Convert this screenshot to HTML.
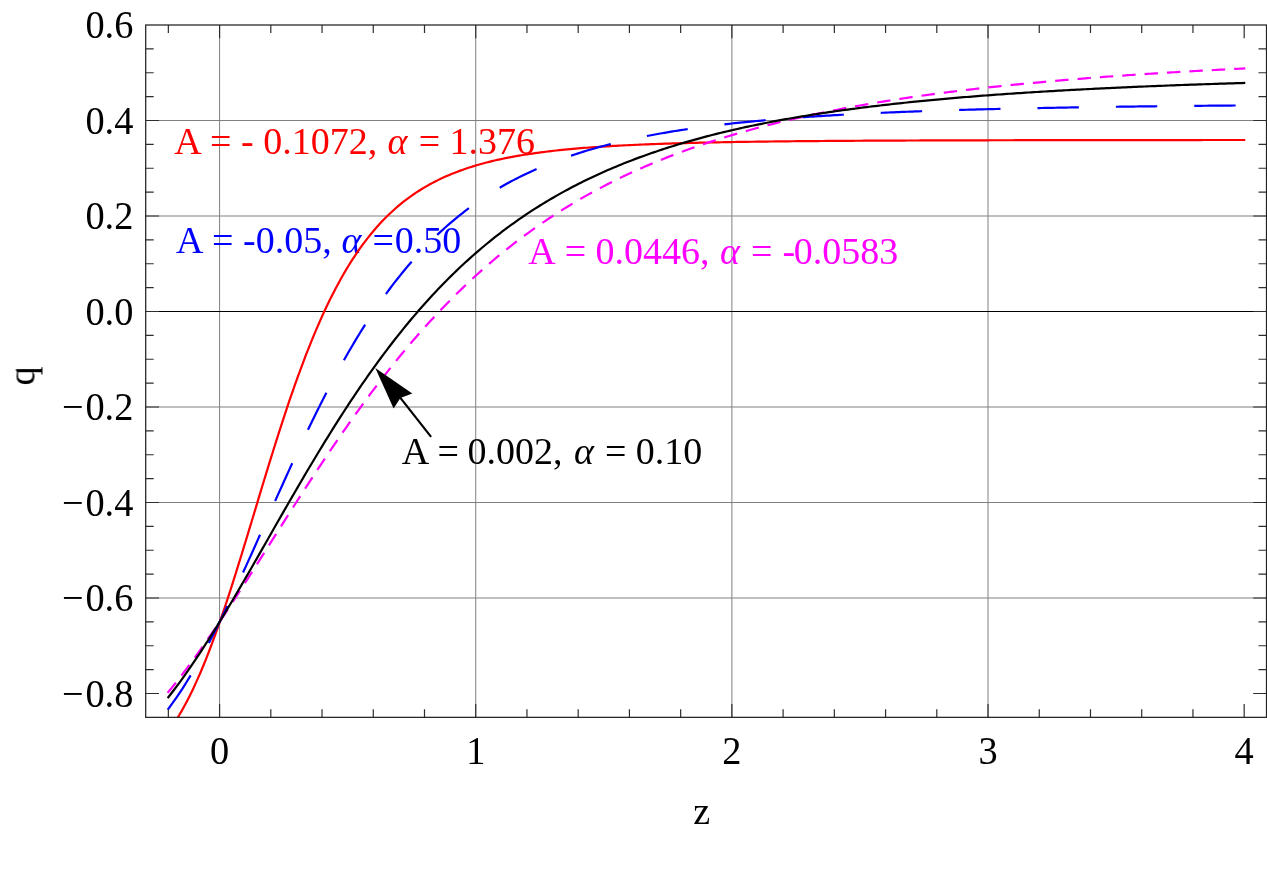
<!DOCTYPE html>
<html><head><meta charset="utf-8"><title>q(z)</title>
<style>html,body{margin:0;padding:0;background:#fff;overflow:hidden}svg{display:block;will-change:transform}text{font-family:"Liberation Serif",serif;font-size:38px}.t{font-size:38.4px}</style></head><body>
<svg width="1267" height="892" viewBox="0 0 1267 892">
<rect width="1267" height="892" fill="#fff"/>
<defs><clipPath id="c"><rect x="145.70" y="25.00" width="1120.80" height="692.35"/></clipPath><mask id="m"><rect width="1267" height="892" fill="#fff"/></mask></defs>
<path d="M219.58 25.00 V717.35 M475.73 25.00 V717.35 M731.88 25.00 V717.35 M988.03 25.00 V717.35 M145.70 120.50 H1266.50 M145.70 216.00 H1266.50 M145.70 407.00 H1266.50 M145.70 502.50 H1266.50 M145.70 598.00 H1266.50" stroke="#808080" stroke-width="1" fill="none"/>
<path d="M145.70 311.50 H1266.50" stroke="#000" stroke-width="1" fill="none"/>
<g mask="url(#m)">
<g fill="#ff0000"><desc>A = - 0.1072, α = 1.376</desc>
<text x="174.30" y="153.80">A</text>
<text x="210.10" y="153.80">=</text>
<text x="241.00" y="153.80" xml:space="preserve">- 0.1072,</text>
<text x="387.40" y="153.80" font-style="italic">α</text>
<text x="418.70" y="153.80">=</text>
<text x="535.00" y="153.80" text-anchor="end">1.376</text>
</g>
<g fill="#0000ff"><desc>A = -0.05, α = 0.50</desc>
<text x="175.90" y="252.65">A</text>
<text x="212.00" y="252.65">=</text>
<text x="243.00" y="252.65" xml:space="preserve">-0.05,</text>
<text x="341.50" y="252.65" font-style="italic">α</text>
<text x="372.60" y="252.65">=</text>
<text x="461.20" y="252.65" text-anchor="end">0.50</text>
</g>
<g fill="#ff00ff"><desc>A = 0.0446, α = -0.0583</desc>
<text x="528.30" y="263.80">A</text>
<text x="564.70" y="263.80">=</text>
<text x="595.55" y="263.80" xml:space="preserve">0.0446,</text>
<text x="719.90" y="263.80" font-style="italic">α</text>
<text x="751.10" y="263.80">=</text>
<text x="782.40" y="263.80">-</text>
<text x="898.20" y="263.80" text-anchor="end">0.0583</text>
</g>
<g fill="#000000"><desc>A = 0.002, α = 0.10</desc>
<text x="401.85" y="463.60">A</text>
<text x="437.50" y="463.60">=</text>
<text x="467.55" y="463.60" xml:space="preserve">0.002,</text>
<text x="573.90" y="463.60" font-style="italic">α</text>
<text x="604.90" y="463.60">=</text>
<text x="702.20" y="463.60" text-anchor="end">0.10</text>
</g>
</g>
<g clip-path="url(#c)" fill="none" stroke-width="2.2" stroke-linecap="square">
<path d="M168.35 731.51 L171.05 727.76 L173.74 723.80 L176.44 719.63 L179.14 715.24 L181.83 710.63 L184.53 705.79 L187.22 700.72 L189.92 695.43 L192.62 689.91 L195.31 684.15 L198.01 678.17 L200.71 671.97 L203.40 665.54 L206.10 658.89 L208.79 652.02 L211.49 644.95 L214.19 637.67 L216.88 630.20 L219.58 622.55 L222.28 614.72 L224.97 606.73 L227.67 598.58 L230.37 590.29 L233.06 581.87 L235.76 573.34 L238.45 564.70 L241.15 555.98 L243.85 547.18 L246.54 538.33 L249.24 529.43 L251.94 520.50 L254.63 511.56 L257.33 502.61 L260.02 493.68 L262.72 484.78 L265.42 475.92 L268.11 467.11 L270.81 458.37 L273.51 449.71 L276.20 441.14 L278.90 432.67 L281.60 424.31 L284.29 416.07 L286.99 407.95 L289.68 399.97 L292.38 392.13 L295.08 384.44 L297.77 376.90 L300.47 369.51 L303.17 362.29 L305.86 355.23 L308.56 348.34 L311.25 341.61 L313.95 335.06 L316.65 328.67 L319.34 322.46 L322.04 316.41 L324.74 310.54 L327.43 304.83 L330.13 299.29 L332.83 293.92 L335.52 288.70 L338.22 283.65 L340.91 278.76 L343.61 274.02 L346.31 269.43 L349.00 265.00 L351.70 260.70 L354.40 256.56 L357.09 252.54 L359.79 248.67 L362.48 244.93 L365.18 241.31 L367.88 237.82 L370.57 234.45 L373.27 231.20 L375.97 228.07 L378.66 225.04 L381.36 222.12 L384.06 219.31 L386.75 216.59 L389.45 213.97 L392.14 211.45 L394.84 209.02 L397.54 206.67 L400.23 204.41 L402.93 202.23 L405.63 200.13 L408.32 198.10 L411.02 196.15 L413.71 194.27 L416.41 192.46 L419.11 190.71 L421.80 189.02 L424.50 187.40 L427.20 185.83 L429.89 184.33 L432.59 182.87 L435.29 181.47 L437.98 180.12 L440.68 178.81 L443.37 177.56 L446.07 176.34 L448.77 175.17 L451.46 174.05 L454.16 172.96 L456.86 171.91 L459.55 170.90 L462.25 169.92 L464.94 168.98 L467.64 168.07 L470.34 167.20 L473.03 166.35 L475.73 165.53 L478.43 164.74 L481.12 163.98 L483.82 163.25 L486.52 162.54 L489.21 161.85 L491.91 161.19 L494.60 160.55 L497.30 159.93 L500.00 159.33 L502.69 158.76 L505.39 158.20 L508.09 157.66 L510.78 157.14 L513.48 156.64 L516.17 156.15 L518.87 155.68 L521.57 155.22 L524.26 154.78 L526.96 154.36 L529.66 153.95 L532.35 153.55 L535.05 153.16 L537.75 152.79 L540.44 152.43 L543.14 152.08 L545.83 151.74 L548.53 151.41 L551.23 151.09 L553.92 150.78 L556.62 150.49 L559.32 150.20 L562.01 149.92 L564.71 149.65 L567.40 149.39 L570.10 149.13 L572.80 148.88 L575.49 148.65 L578.19 148.41 L580.89 148.19 L583.58 147.97 L586.28 147.76 L588.98 147.56 L591.67 147.36 L594.37 147.16 L597.06 146.98 L599.76 146.79 L602.46 146.62 L605.15 146.45 L607.85 146.28 L610.55 146.12 L613.24 145.96 L615.94 145.81 L618.63 145.66 L621.33 145.52 L624.03 145.38 L626.72 145.25 L629.42 145.12 L632.12 144.99 L634.81 144.86 L637.51 144.74 L640.21 144.63 L642.90 144.51 L645.60 144.40 L648.29 144.29 L650.99 144.19 L653.69 144.09 L656.38 143.99 L659.08 143.89 L661.78 143.80 L664.47 143.71 L667.17 143.62 L669.86 143.53 L672.56 143.45 L675.26 143.37 L677.95 143.29 L680.65 143.21 L683.35 143.13 L686.04 143.06 L688.74 142.99 L691.44 142.92 L694.13 142.85 L696.83 142.78 L699.52 142.72 L702.22 142.66 L704.92 142.60 L707.61 142.54 L710.31 142.48 L713.01 142.42 L715.70 142.37 L718.40 142.31 L721.09 142.26 L723.79 142.21 L726.49 142.16 L729.18 142.11 L731.88 142.07 L734.58 142.02 L737.27 141.97 L739.97 141.93 L742.67 141.89 L745.36 141.85 L748.06 141.81 L750.75 141.77 L753.45 141.73 L756.15 141.69 L758.84 141.65 L761.54 141.62 L764.24 141.58 L766.93 141.55 L769.63 141.51 L772.32 141.48 L775.02 141.45 L777.72 141.42 L780.41 141.39 L783.11 141.36 L785.81 141.33 L788.50 141.30 L791.20 141.27 L793.90 141.24 L796.59 141.22 L799.29 141.19 L801.98 141.17 L804.68 141.14 L807.38 141.12 L810.07 141.09 L812.77 141.07 L815.47 141.05 L818.16 141.03 L820.86 141.01 L823.55 140.98 L826.25 140.96 L828.95 140.94 L831.64 140.92 L834.34 140.91 L837.04 140.89 L839.73 140.87 L842.43 140.85 L845.13 140.83 L847.82 140.82 L850.52 140.80 L853.21 140.78 L855.91 140.77 L858.61 140.75 L861.30 140.73 L864.00 140.72 L866.70 140.70 L869.39 140.69 L872.09 140.68 L874.78 140.66 L877.48 140.65 L880.18 140.64 L882.87 140.62 L885.57 140.61 L888.27 140.60 L890.96 140.58 L893.66 140.57 L896.36 140.56 L899.05 140.55 L901.75 140.54 L904.44 140.53 L907.14 140.52 L909.84 140.51 L912.53 140.50 L915.23 140.49 L917.93 140.48 L920.62 140.47 L923.32 140.46 L926.01 140.45 L928.71 140.44 L931.41 140.43 L934.10 140.42 L936.80 140.41 L939.50 140.40 L942.19 140.39 L944.89 140.39 L947.59 140.38 L950.28 140.37 L952.98 140.36 L955.67 140.36 L958.37 140.35 L961.07 140.34 L963.76 140.33 L966.46 140.33 L969.16 140.32 L971.85 140.31 L974.55 140.31 L977.24 140.30 L979.94 140.29 L982.64 140.29 L985.33 140.28 L988.03 140.28 L990.73 140.27 L993.42 140.26 L996.12 140.26 L998.82 140.25 L1001.51 140.25 L1004.21 140.24 L1006.90 140.24 L1009.60 140.23 L1012.30 140.23 L1014.99 140.22 L1017.69 140.22 L1020.39 140.21 L1023.08 140.21 L1025.78 140.20 L1028.47 140.20 L1031.17 140.19 L1033.87 140.19 L1036.56 140.19 L1039.26 140.18 L1041.96 140.18 L1044.65 140.17 L1047.35 140.17 L1050.05 140.17 L1052.74 140.16 L1055.44 140.16 L1058.13 140.15 L1060.83 140.15 L1063.53 140.15 L1066.22 140.14 L1068.92 140.14 L1071.62 140.14 L1074.31 140.13 L1077.01 140.13 L1079.70 140.13 L1082.40 140.12 L1085.10 140.12 L1087.79 140.12 L1090.49 140.11 L1093.19 140.11 L1095.88 140.11 L1098.58 140.11 L1101.28 140.10 L1103.97 140.10 L1106.67 140.10 L1109.36 140.09 L1112.06 140.09 L1114.76 140.09 L1117.45 140.09 L1120.15 140.08 L1122.85 140.08 L1125.54 140.08 L1128.24 140.08 L1130.93 140.07 L1133.63 140.07 L1136.33 140.07 L1139.02 140.07 L1141.72 140.07 L1144.42 140.06 L1147.11 140.06 L1149.81 140.06 L1152.51 140.06 L1155.20 140.06 L1157.90 140.05 L1160.59 140.05 L1163.29 140.05 L1165.99 140.05 L1168.68 140.05 L1171.38 140.04 L1174.08 140.04 L1176.77 140.04 L1179.47 140.04 L1182.16 140.04 L1184.86 140.04 L1187.56 140.03 L1190.25 140.03 L1192.95 140.03 L1195.65 140.03 L1198.34 140.03 L1201.04 140.03 L1203.74 140.02 L1206.43 140.02 L1209.13 140.02 L1211.82 140.02 L1214.52 140.02 L1217.22 140.02 L1219.91 140.02 L1222.61 140.01 L1225.31 140.01 L1228.00 140.01 L1230.70 140.01 L1233.39 140.01 L1236.09 140.01 L1238.79 140.01 L1241.48 140.01 L1244.18 140.00" stroke="#ff0000" stroke-linecap="square"/>
<path d="M168.35 708.85 L171.05 705.20 L173.74 701.45 L176.44 697.58 L179.14 693.60 L181.83 689.52 L184.53 685.33 L187.22 681.04 L189.92 676.64 L192.62 672.13 L195.31 667.53 L198.01 662.83 L200.71 658.04 L203.40 653.15 L206.10 648.17 L208.79 643.10 L211.49 637.95 L214.19 632.71 L216.88 627.40 L219.58 622.01 L222.28 616.55 L224.97 611.02 L227.67 605.43 L230.37 599.78 L233.06 594.08 L235.76 588.32 L238.45 582.52 L241.15 576.67 L243.85 570.78 L246.54 564.86 L249.24 558.91 L251.94 552.93 L254.63 546.93 L257.33 540.92 L260.02 534.89 L262.72 528.85 L265.42 522.81 L268.11 516.77 L270.81 510.73 L273.51 504.69 L276.20 498.67 L278.90 492.67 L281.60 486.68 L284.29 480.72 L286.99 474.78 L289.68 468.87 L292.38 462.99 L295.08 457.15 L297.77 451.35 L300.47 445.59 L303.17 439.87 L305.86 434.20 L308.56 428.58 L311.25 423.00 L313.95 417.49 L316.65 412.02 L319.34 406.62 L322.04 401.27 L324.74 395.98 L327.43 390.76 L330.13 385.59 L332.83 380.49 L335.52 375.46 L338.22 370.50 L340.91 365.60 L343.61 360.76 L346.31 356.00 L349.00 351.31 L351.70 346.68 L354.40 342.13 L357.09 337.64 L359.79 333.23 L362.48 328.89 L365.18 324.61 L367.88 320.41 L370.57 316.27 L373.27 312.21 L375.97 308.22 L378.66 304.29 L381.36 300.43 L384.06 296.65 L386.75 292.93 L389.45 289.27 L392.14 285.69 L394.84 282.16 L397.54 278.71 L400.23 275.32 L402.93 271.99 L405.63 268.73 L408.32 265.53 L411.02 262.39 L413.71 259.31 L416.41 256.29 L419.11 253.33 L421.80 250.42 L424.50 247.58 L427.20 244.79 L429.89 242.06 L432.59 239.38 L435.29 236.76 L437.98 234.19 L440.68 231.67 L443.37 229.20 L446.07 226.78 L448.77 224.41 L451.46 222.09 L454.16 219.82 L456.86 217.59 L459.55 215.41 L462.25 213.28 L464.94 211.19 L467.64 209.14 L470.34 207.13 L473.03 205.17 L475.73 203.24 L478.43 201.36 L481.12 199.52 L483.82 197.71 L486.52 195.94 L489.21 194.21 L491.91 192.51 L494.60 190.85 L497.30 189.22 L500.00 187.63 L502.69 186.07 L505.39 184.55 L508.09 183.05 L510.78 181.59 L513.48 180.15 L516.17 178.75 L518.87 177.37 L521.57 176.03 L524.26 174.71 L526.96 173.42 L529.66 172.15 L532.35 170.91 L535.05 169.70 L537.75 168.51 L540.44 167.34 L543.14 166.20 L545.83 165.09 L548.53 163.99 L551.23 162.92 L553.92 161.87 L556.62 160.84 L559.32 159.83 L562.01 158.85 L564.71 157.88 L567.40 156.93 L570.10 156.00 L572.80 155.09 L575.49 154.20 L578.19 153.33 L580.89 152.47 L583.58 151.63 L586.28 150.81 L588.98 150.00 L591.67 149.21 L594.37 148.44 L597.06 147.68 L599.76 146.93 L602.46 146.20 L605.15 145.49 L607.85 144.79 L610.55 144.10 L613.24 143.42 L615.94 142.76 L618.63 142.11 L621.33 141.48 L624.03 140.85 L626.72 140.24 L629.42 139.64 L632.12 139.05 L634.81 138.48 L637.51 137.91 L640.21 137.35 L642.90 136.81 L645.60 136.28 L648.29 135.75 L650.99 135.24 L653.69 134.73 L656.38 134.24 L659.08 133.75 L661.78 133.27 L664.47 132.80 L667.17 132.34 L669.86 131.89 L672.56 131.45 L675.26 131.01 L677.95 130.59 L680.65 130.17 L683.35 129.76 L686.04 129.35 L688.74 128.96 L691.44 128.57 L694.13 128.19 L696.83 127.81 L699.52 127.44 L702.22 127.08 L704.92 126.72 L707.61 126.37 L710.31 126.03 L713.01 125.69 L715.70 125.36 L718.40 125.04 L721.09 124.72 L723.79 124.40 L726.49 124.10 L729.18 123.79 L731.88 123.49 L734.58 123.20 L737.27 122.91 L739.97 122.63 L742.67 122.35 L745.36 122.08 L748.06 121.81 L750.75 121.55 L753.45 121.29 L756.15 121.03 L758.84 120.78 L761.54 120.54 L764.24 120.29 L766.93 120.06 L769.63 119.82 L772.32 119.59 L775.02 119.36 L777.72 119.14 L780.41 118.92 L783.11 118.71 L785.81 118.49 L788.50 118.29 L791.20 118.08 L793.90 117.88 L796.59 117.68 L799.29 117.49 L801.98 117.29 L804.68 117.10 L807.38 116.92 L810.07 116.74 L812.77 116.56 L815.47 116.38 L818.16 116.20 L820.86 116.03 L823.55 115.86 L826.25 115.70 L828.95 115.53 L831.64 115.37 L834.34 115.21 L837.04 115.06 L839.73 114.90 L842.43 114.75 L845.13 114.60 L847.82 114.46 L850.52 114.31 L853.21 114.17 L855.91 114.03 L858.61 113.89 L861.30 113.76 L864.00 113.62 L866.70 113.49 L869.39 113.36 L872.09 113.24 L874.78 113.11 L877.48 112.99 L880.18 112.86 L882.87 112.74 L885.57 112.63 L888.27 112.51 L890.96 112.39 L893.66 112.28 L896.36 112.17 L899.05 112.06 L901.75 111.95 L904.44 111.84 L907.14 111.74 L909.84 111.64 L912.53 111.53 L915.23 111.43 L917.93 111.33 L920.62 111.24 L923.32 111.14 L926.01 111.04 L928.71 110.95 L931.41 110.86 L934.10 110.77 L936.80 110.68 L939.50 110.59 L942.19 110.50 L944.89 110.42 L947.59 110.33 L950.28 110.25 L952.98 110.17 L955.67 110.08 L958.37 110.00 L961.07 109.92 L963.76 109.85 L966.46 109.77 L969.16 109.69 L971.85 109.62 L974.55 109.55 L977.24 109.47 L979.94 109.40 L982.64 109.33 L985.33 109.26 L988.03 109.19 L990.73 109.12 L993.42 109.06 L996.12 108.99 L998.82 108.93 L1001.51 108.86 L1004.21 108.80 L1006.90 108.73 L1009.60 108.67 L1012.30 108.61 L1014.99 108.55 L1017.69 108.49 L1020.39 108.43 L1023.08 108.38 L1025.78 108.32 L1028.47 108.26 L1031.17 108.21 L1033.87 108.15 L1036.56 108.10 L1039.26 108.04 L1041.96 107.99 L1044.65 107.94 L1047.35 107.89 L1050.05 107.84 L1052.74 107.79 L1055.44 107.74 L1058.13 107.69 L1060.83 107.64 L1063.53 107.59 L1066.22 107.55 L1068.92 107.50 L1071.62 107.45 L1074.31 107.41 L1077.01 107.36 L1079.70 107.32 L1082.40 107.27 L1085.10 107.23 L1087.79 107.19 L1090.49 107.15 L1093.19 107.11 L1095.88 107.06 L1098.58 107.02 L1101.28 106.98 L1103.97 106.94 L1106.67 106.91 L1109.36 106.87 L1112.06 106.83 L1114.76 106.79 L1117.45 106.75 L1120.15 106.72 L1122.85 106.68 L1125.54 106.65 L1128.24 106.61 L1130.93 106.57 L1133.63 106.54 L1136.33 106.51 L1139.02 106.47 L1141.72 106.44 L1144.42 106.41 L1147.11 106.37 L1149.81 106.34 L1152.51 106.31 L1155.20 106.28 L1157.90 106.25 L1160.59 106.22 L1163.29 106.19 L1165.99 106.16 L1168.68 106.13 L1171.38 106.10 L1174.08 106.07 L1176.77 106.04 L1179.47 106.01 L1182.16 105.98 L1184.86 105.95 L1187.56 105.93 L1190.25 105.90 L1192.95 105.87 L1195.65 105.85 L1198.34 105.82 L1201.04 105.79 L1203.74 105.77 L1206.43 105.74 L1209.13 105.72 L1211.82 105.69 L1214.52 105.67 L1217.22 105.65 L1219.91 105.62 L1222.61 105.60 L1225.31 105.57 L1228.00 105.55 L1230.70 105.53 L1233.39 105.51 L1236.09 105.48 L1238.79 105.46 L1241.48 105.44 L1244.18 105.42" stroke="#0000ff" stroke-dasharray="39.2 39.2"/>
<path d="M168.35 692.00 L171.05 688.69 L173.74 685.34 L176.44 681.94 L179.14 678.49 L181.83 674.99 L184.53 671.45 L187.22 667.86 L189.92 664.23 L192.62 660.56 L195.31 656.85 L198.01 653.10 L200.71 649.32 L203.40 645.49 L206.10 641.64 L208.79 637.75 L211.49 633.82 L214.19 629.87 L216.88 625.89 L219.58 621.88 L222.28 617.84 L224.97 613.78 L227.67 609.70 L230.37 605.60 L233.06 601.47 L235.76 597.33 L238.45 593.17 L241.15 588.99 L243.85 584.80 L246.54 580.59 L249.24 576.38 L251.94 572.15 L254.63 567.91 L257.33 563.67 L260.02 559.42 L262.72 555.17 L265.42 550.91 L268.11 546.65 L270.81 542.40 L273.51 538.14 L276.20 533.88 L278.90 529.62 L281.60 525.37 L284.29 521.13 L286.99 516.89 L289.68 512.66 L292.38 508.44 L295.08 504.23 L297.77 500.03 L300.47 495.84 L303.17 491.66 L305.86 487.50 L308.56 483.35 L311.25 479.22 L313.95 475.10 L316.65 471.00 L319.34 466.92 L322.04 462.86 L324.74 458.82 L327.43 454.80 L330.13 450.80 L332.83 446.82 L335.52 442.86 L338.22 438.93 L340.91 435.02 L343.61 431.14 L346.31 427.27 L349.00 423.44 L351.70 419.63 L354.40 415.84 L357.09 412.09 L359.79 408.36 L362.48 404.65 L365.18 400.98 L367.88 397.33 L370.57 393.71 L373.27 390.12 L375.97 386.55 L378.66 383.02 L381.36 379.52 L384.06 376.04 L386.75 372.60 L389.45 369.18 L392.14 365.79 L394.84 362.44 L397.54 359.11 L400.23 355.82 L402.93 352.55 L405.63 349.32 L408.32 346.11 L411.02 342.94 L413.71 339.79 L416.41 336.68 L419.11 333.60 L421.80 330.55 L424.50 327.52 L427.20 324.53 L429.89 321.57 L432.59 318.64 L435.29 315.74 L437.98 312.86 L440.68 310.02 L443.37 307.21 L446.07 304.43 L448.77 301.67 L451.46 298.95 L454.16 296.25 L456.86 293.59 L459.55 290.95 L462.25 288.34 L464.94 285.76 L467.64 283.21 L470.34 280.68 L473.03 278.19 L475.73 275.72 L478.43 273.28 L481.12 270.87 L483.82 268.48 L486.52 266.12 L489.21 263.79 L491.91 261.48 L494.60 259.20 L497.30 256.95 L500.00 254.72 L502.69 252.52 L505.39 250.34 L508.09 248.19 L510.78 246.06 L513.48 243.96 L516.17 241.88 L518.87 239.82 L521.57 237.79 L524.26 235.79 L526.96 233.80 L529.66 231.84 L532.35 229.91 L535.05 227.99 L537.75 226.10 L540.44 224.23 L543.14 222.39 L545.83 220.56 L548.53 218.76 L551.23 216.97 L553.92 215.21 L556.62 213.47 L559.32 211.75 L562.01 210.05 L564.71 208.37 L567.40 206.71 L570.10 205.07 L572.80 203.45 L575.49 201.85 L578.19 200.27 L580.89 198.71 L583.58 197.16 L586.28 195.64 L588.98 194.13 L591.67 192.64 L594.37 191.17 L597.06 189.71 L599.76 188.28 L602.46 186.86 L605.15 185.45 L607.85 184.07 L610.55 182.70 L613.24 181.34 L615.94 180.00 L618.63 178.68 L621.33 177.37 L624.03 176.08 L626.72 174.81 L629.42 173.55 L632.12 172.30 L634.81 171.07 L637.51 169.86 L640.21 168.65 L642.90 167.47 L645.60 166.29 L648.29 165.13 L650.99 163.99 L653.69 162.85 L656.38 161.73 L659.08 160.63 L661.78 159.53 L664.47 158.45 L667.17 157.39 L669.86 156.33 L672.56 155.29 L675.26 154.26 L677.95 153.24 L680.65 152.23 L683.35 151.24 L686.04 150.25 L688.74 149.28 L691.44 148.32 L694.13 147.37 L696.83 146.43 L699.52 145.50 L702.22 144.58 L704.92 143.68 L707.61 142.78 L710.31 141.89 L713.01 141.02 L715.70 140.15 L718.40 139.30 L721.09 138.45 L723.79 137.61 L726.49 136.79 L729.18 135.97 L731.88 135.16 L734.58 134.36 L737.27 133.57 L739.97 132.79 L742.67 132.02 L745.36 131.25 L748.06 130.50 L750.75 129.75 L753.45 129.01 L756.15 128.28 L758.84 127.56 L761.54 126.84 L764.24 126.14 L766.93 125.44 L769.63 124.75 L772.32 124.07 L775.02 123.39 L777.72 122.72 L780.41 122.06 L783.11 121.41 L785.81 120.76 L788.50 120.12 L791.20 119.49 L793.90 118.87 L796.59 118.25 L799.29 117.64 L801.98 117.03 L804.68 116.43 L807.38 115.84 L810.07 115.26 L812.77 114.68 L815.47 114.10 L818.16 113.54 L820.86 112.98 L823.55 112.42 L826.25 111.87 L828.95 111.33 L831.64 110.79 L834.34 110.26 L837.04 109.73 L839.73 109.21 L842.43 108.70 L845.13 108.19 L847.82 107.69 L850.52 107.19 L853.21 106.69 L855.91 106.21 L858.61 105.72 L861.30 105.24 L864.00 104.77 L866.70 104.30 L869.39 103.84 L872.09 103.38 L874.78 102.93 L877.48 102.48 L880.18 102.03 L882.87 101.59 L885.57 101.16 L888.27 100.73 L890.96 100.30 L893.66 99.88 L896.36 99.46 L899.05 99.04 L901.75 98.64 L904.44 98.23 L907.14 97.83 L909.84 97.43 L912.53 97.04 L915.23 96.65 L917.93 96.26 L920.62 95.88 L923.32 95.50 L926.01 95.13 L928.71 94.76 L931.41 94.39 L934.10 94.03 L936.80 93.67 L939.50 93.31 L942.19 92.96 L944.89 92.61 L947.59 92.27 L950.28 91.92 L952.98 91.59 L955.67 91.25 L958.37 90.92 L961.07 90.59 L963.76 90.26 L966.46 89.94 L969.16 89.62 L971.85 89.30 L974.55 88.99 L977.24 88.68 L979.94 88.37 L982.64 88.07 L985.33 87.77 L988.03 87.47 L990.73 87.17 L993.42 86.88 L996.12 86.59 L998.82 86.30 L1001.51 86.01 L1004.21 85.73 L1006.90 85.45 L1009.60 85.18 L1012.30 84.90 L1014.99 84.63 L1017.69 84.36 L1020.39 84.09 L1023.08 83.83 L1025.78 83.57 L1028.47 83.31 L1031.17 83.05 L1033.87 82.79 L1036.56 82.54 L1039.26 82.29 L1041.96 82.04 L1044.65 81.80 L1047.35 81.56 L1050.05 81.31 L1052.74 81.08 L1055.44 80.84 L1058.13 80.60 L1060.83 80.37 L1063.53 80.14 L1066.22 79.91 L1068.92 79.69 L1071.62 79.46 L1074.31 79.24 L1077.01 79.02 L1079.70 78.80 L1082.40 78.58 L1085.10 78.37 L1087.79 78.16 L1090.49 77.95 L1093.19 77.74 L1095.88 77.53 L1098.58 77.33 L1101.28 77.12 L1103.97 76.92 L1106.67 76.72 L1109.36 76.52 L1112.06 76.33 L1114.76 76.13 L1117.45 75.94 L1120.15 75.75 L1122.85 75.56 L1125.54 75.37 L1128.24 75.18 L1130.93 75.00 L1133.63 74.82 L1136.33 74.63 L1139.02 74.45 L1141.72 74.27 L1144.42 74.10 L1147.11 73.92 L1149.81 73.75 L1152.51 73.58 L1155.20 73.40 L1157.90 73.23 L1160.59 73.07 L1163.29 72.90 L1165.99 72.73 L1168.68 72.57 L1171.38 72.41 L1174.08 72.25 L1176.77 72.09 L1179.47 71.93 L1182.16 71.77 L1184.86 71.61 L1187.56 71.46 L1190.25 71.30 L1192.95 71.15 L1195.65 71.00 L1198.34 70.85 L1201.04 70.70 L1203.74 70.56 L1206.43 70.41 L1209.13 70.26 L1211.82 70.12 L1214.52 69.98 L1217.22 69.84 L1219.91 69.70 L1222.61 69.56 L1225.31 69.42 L1228.00 69.28 L1230.70 69.15 L1233.39 69.01 L1236.09 68.88 L1238.79 68.74 L1241.48 68.61 L1244.18 68.48" stroke="#ff00ff" stroke-dasharray="11.21 11.21" stroke-dashoffset="0.3"/>
<path d="M168.35 697.23 L171.05 693.78 L173.74 690.26 L176.44 686.68 L179.14 683.03 L181.83 679.32 L184.53 675.56 L187.22 671.74 L189.92 667.86 L192.62 663.92 L195.31 659.93 L198.01 655.89 L200.71 651.80 L203.40 647.66 L206.10 643.47 L208.79 639.24 L211.49 634.97 L214.19 630.65 L216.88 626.30 L219.58 621.90 L222.28 617.48 L224.97 613.01 L227.67 608.52 L230.37 604.00 L233.06 599.45 L235.76 594.87 L238.45 590.27 L241.15 585.65 L243.85 581.01 L246.54 576.36 L249.24 571.68 L251.94 567.00 L254.63 562.30 L257.33 557.59 L260.02 552.88 L262.72 548.16 L265.42 543.44 L268.11 538.71 L270.81 533.98 L273.51 529.26 L276.20 524.54 L278.90 519.82 L281.60 515.12 L284.29 510.42 L286.99 505.73 L289.68 501.05 L292.38 496.39 L295.08 491.74 L297.77 487.10 L300.47 482.49 L303.17 477.89 L305.86 473.31 L308.56 468.76 L311.25 464.23 L313.95 459.72 L316.65 455.23 L319.34 450.78 L322.04 446.35 L324.74 441.94 L327.43 437.57 L330.13 433.23 L332.83 428.91 L335.52 424.63 L338.22 420.38 L340.91 416.17 L343.61 411.99 L346.31 407.84 L349.00 403.72 L351.70 399.65 L354.40 395.60 L357.09 391.60 L359.79 387.63 L362.48 383.70 L365.18 379.81 L367.88 375.95 L370.57 372.13 L373.27 368.35 L375.97 364.61 L378.66 360.91 L381.36 357.25 L384.06 353.62 L386.75 350.04 L389.45 346.49 L392.14 342.99 L394.84 339.52 L397.54 336.09 L400.23 332.70 L402.93 329.35 L405.63 326.04 L408.32 322.77 L411.02 319.54 L413.71 316.35 L416.41 313.19 L419.11 310.08 L421.80 307.00 L424.50 303.96 L427.20 300.96 L429.89 298.00 L432.59 295.07 L435.29 292.18 L437.98 289.33 L440.68 286.52 L443.37 283.74 L446.07 281.00 L448.77 278.29 L451.46 275.62 L454.16 272.98 L456.86 270.38 L459.55 267.82 L462.25 265.29 L464.94 262.79 L467.64 260.33 L470.34 257.90 L473.03 255.50 L475.73 253.14 L478.43 250.80 L481.12 248.50 L483.82 246.24 L486.52 244.00 L489.21 241.79 L491.91 239.62 L494.60 237.47 L497.30 235.36 L500.00 233.27 L502.69 231.21 L505.39 229.19 L508.09 227.19 L510.78 225.22 L513.48 223.27 L516.17 221.36 L518.87 219.47 L521.57 217.60 L524.26 215.77 L526.96 213.96 L529.66 212.17 L532.35 210.41 L535.05 208.68 L537.75 206.97 L540.44 205.28 L543.14 203.62 L545.83 201.98 L548.53 200.36 L551.23 198.77 L553.92 197.20 L556.62 195.66 L559.32 194.13 L562.01 192.63 L564.71 191.14 L567.40 189.68 L570.10 188.24 L572.80 186.82 L575.49 185.42 L578.19 184.04 L580.89 182.68 L583.58 181.34 L586.28 180.01 L588.98 178.71 L591.67 177.43 L594.37 176.16 L597.06 174.91 L599.76 173.68 L602.46 172.46 L605.15 171.26 L607.85 170.08 L610.55 168.92 L613.24 167.77 L615.94 166.64 L618.63 165.52 L621.33 164.42 L624.03 163.34 L626.72 162.27 L629.42 161.21 L632.12 160.17 L634.81 159.15 L637.51 158.14 L640.21 157.14 L642.90 156.16 L645.60 155.19 L648.29 154.23 L650.99 153.28 L653.69 152.35 L656.38 151.44 L659.08 150.53 L661.78 149.64 L664.47 148.76 L667.17 147.89 L669.86 147.03 L672.56 146.19 L675.26 145.35 L677.95 144.53 L680.65 143.72 L683.35 142.92 L686.04 142.13 L688.74 141.35 L691.44 140.58 L694.13 139.83 L696.83 139.08 L699.52 138.34 L702.22 137.61 L704.92 136.89 L707.61 136.18 L710.31 135.49 L713.01 134.80 L715.70 134.11 L718.40 133.44 L721.09 132.78 L723.79 132.12 L726.49 131.48 L729.18 130.84 L731.88 130.21 L734.58 129.59 L737.27 128.98 L739.97 128.37 L742.67 127.78 L745.36 127.19 L748.06 126.61 L750.75 126.03 L753.45 125.47 L756.15 124.91 L758.84 124.35 L761.54 123.81 L764.24 123.27 L766.93 122.74 L769.63 122.22 L772.32 121.70 L775.02 121.19 L777.72 120.68 L780.41 120.18 L783.11 119.69 L785.81 119.20 L788.50 118.72 L791.20 118.25 L793.90 117.78 L796.59 117.32 L799.29 116.86 L801.98 116.41 L804.68 115.97 L807.38 115.53 L810.07 115.09 L812.77 114.66 L815.47 114.24 L818.16 113.82 L820.86 113.41 L823.55 113.00 L826.25 112.60 L828.95 112.20 L831.64 111.80 L834.34 111.42 L837.04 111.03 L839.73 110.65 L842.43 110.28 L845.13 109.91 L847.82 109.54 L850.52 109.18 L853.21 108.82 L855.91 108.47 L858.61 108.12 L861.30 107.77 L864.00 107.43 L866.70 107.09 L869.39 106.76 L872.09 106.43 L874.78 106.11 L877.48 105.79 L880.18 105.47 L882.87 105.15 L885.57 104.84 L888.27 104.54 L890.96 104.23 L893.66 103.93 L896.36 103.64 L899.05 103.35 L901.75 103.06 L904.44 102.77 L907.14 102.49 L909.84 102.21 L912.53 101.93 L915.23 101.66 L917.93 101.39 L920.62 101.12 L923.32 100.85 L926.01 100.59 L928.71 100.33 L931.41 100.08 L934.10 99.83 L936.80 99.58 L939.50 99.33 L942.19 99.08 L944.89 98.84 L947.59 98.60 L950.28 98.37 L952.98 98.13 L955.67 97.90 L958.37 97.67 L961.07 97.45 L963.76 97.22 L966.46 97.00 L969.16 96.78 L971.85 96.57 L974.55 96.35 L977.24 96.14 L979.94 95.93 L982.64 95.72 L985.33 95.52 L988.03 95.31 L990.73 95.11 L993.42 94.92 L996.12 94.72 L998.82 94.52 L1001.51 94.33 L1004.21 94.14 L1006.90 93.95 L1009.60 93.77 L1012.30 93.58 L1014.99 93.40 L1017.69 93.22 L1020.39 93.04 L1023.08 92.86 L1025.78 92.69 L1028.47 92.51 L1031.17 92.34 L1033.87 92.17 L1036.56 92.00 L1039.26 91.84 L1041.96 91.67 L1044.65 91.51 L1047.35 91.35 L1050.05 91.19 L1052.74 91.03 L1055.44 90.87 L1058.13 90.72 L1060.83 90.57 L1063.53 90.41 L1066.22 90.26 L1068.92 90.12 L1071.62 89.97 L1074.31 89.82 L1077.01 89.68 L1079.70 89.54 L1082.40 89.39 L1085.10 89.25 L1087.79 89.11 L1090.49 88.98 L1093.19 88.84 L1095.88 88.71 L1098.58 88.57 L1101.28 88.44 L1103.97 88.31 L1106.67 88.18 L1109.36 88.05 L1112.06 87.93 L1114.76 87.80 L1117.45 87.68 L1120.15 87.55 L1122.85 87.43 L1125.54 87.31 L1128.24 87.19 L1130.93 87.07 L1133.63 86.95 L1136.33 86.84 L1139.02 86.72 L1141.72 86.61 L1144.42 86.49 L1147.11 86.38 L1149.81 86.27 L1152.51 86.16 L1155.20 86.05 L1157.90 85.94 L1160.59 85.84 L1163.29 85.73 L1165.99 85.62 L1168.68 85.52 L1171.38 85.42 L1174.08 85.32 L1176.77 85.21 L1179.47 85.11 L1182.16 85.01 L1184.86 84.92 L1187.56 84.82 L1190.25 84.72 L1192.95 84.63 L1195.65 84.53 L1198.34 84.44 L1201.04 84.34 L1203.74 84.25 L1206.43 84.16 L1209.13 84.07 L1211.82 83.98 L1214.52 83.89 L1217.22 83.80 L1219.91 83.71 L1222.61 83.63 L1225.31 83.54 L1228.00 83.46 L1230.70 83.37 L1233.39 83.29 L1236.09 83.21 L1238.79 83.12 L1241.48 83.04 L1244.18 82.96" stroke="#000" stroke-linecap="square"/>
</g>
<path d="M168.35 717.35 v-8.00 M168.35 25.00 v8.00 M219.58 717.35 v-13.30 M219.58 25.00 v13.30 M270.81 717.35 v-8.00 M270.81 25.00 v8.00 M322.04 717.35 v-8.00 M322.04 25.00 v8.00 M373.27 717.35 v-8.00 M373.27 25.00 v8.00 M424.50 717.35 v-8.00 M424.50 25.00 v8.00 M475.73 717.35 v-13.30 M475.73 25.00 v13.30 M526.96 717.35 v-8.00 M526.96 25.00 v8.00 M578.19 717.35 v-8.00 M578.19 25.00 v8.00 M629.42 717.35 v-8.00 M629.42 25.00 v8.00 M680.65 717.35 v-8.00 M680.65 25.00 v8.00 M731.88 717.35 v-13.30 M731.88 25.00 v13.30 M783.11 717.35 v-8.00 M783.11 25.00 v8.00 M834.34 717.35 v-8.00 M834.34 25.00 v8.00 M885.57 717.35 v-8.00 M885.57 25.00 v8.00 M936.80 717.35 v-8.00 M936.80 25.00 v8.00 M988.03 717.35 v-13.30 M988.03 25.00 v13.30 M1039.26 717.35 v-8.00 M1039.26 25.00 v8.00 M1090.49 717.35 v-8.00 M1090.49 25.00 v8.00 M1141.72 717.35 v-8.00 M1141.72 25.00 v8.00 M1192.95 717.35 v-8.00 M1192.95 25.00 v8.00 M1244.18 717.35 v-13.30 M1244.18 25.00 v13.30 M145.70 693.50 h13.30 M1266.50 693.50 h-13.30 M145.70 669.62 h8.00 M1266.50 669.62 h-8.00 M145.70 645.75 h8.00 M1266.50 645.75 h-8.00 M145.70 621.88 h8.00 M1266.50 621.88 h-8.00 M145.70 598.00 h13.30 M1266.50 598.00 h-13.30 M145.70 574.12 h8.00 M1266.50 574.12 h-8.00 M145.70 550.25 h8.00 M1266.50 550.25 h-8.00 M145.70 526.38 h8.00 M1266.50 526.38 h-8.00 M145.70 502.50 h13.30 M1266.50 502.50 h-13.30 M145.70 478.62 h8.00 M1266.50 478.62 h-8.00 M145.70 454.75 h8.00 M1266.50 454.75 h-8.00 M145.70 430.88 h8.00 M1266.50 430.88 h-8.00 M145.70 407.00 h13.30 M1266.50 407.00 h-13.30 M145.70 383.12 h8.00 M1266.50 383.12 h-8.00 M145.70 359.25 h8.00 M1266.50 359.25 h-8.00 M145.70 335.38 h8.00 M1266.50 335.38 h-8.00 M145.70 311.50 h13.30 M1266.50 311.50 h-13.30 M145.70 287.62 h8.00 M1266.50 287.62 h-8.00 M145.70 263.75 h8.00 M1266.50 263.75 h-8.00 M145.70 239.88 h8.00 M1266.50 239.88 h-8.00 M145.70 216.00 h13.30 M1266.50 216.00 h-13.30 M145.70 192.12 h8.00 M1266.50 192.12 h-8.00 M145.70 168.25 h8.00 M1266.50 168.25 h-8.00 M145.70 144.37 h8.00 M1266.50 144.37 h-8.00 M145.70 120.50 h13.30 M1266.50 120.50 h-13.30 M145.70 96.62 h8.00 M1266.50 96.62 h-8.00 M145.70 72.75 h8.00 M1266.50 72.75 h-8.00 M145.70 48.88 h8.00 M1266.50 48.88 h-8.00" stroke="#2e2e2e" stroke-width="1.20" fill="none"/>
<rect x="145.70" y="25.00" width="1120.80" height="692.35" fill="none" stroke="#222" stroke-width="1.25"/>
<g mask="url(#m)">
<text class="t" transform="translate(133.4,38.10) scale(1,1.023)" text-anchor="end">0.6</text>
<text class="t" transform="translate(133.4,133.60) scale(1,1.023)" text-anchor="end">0.4</text>
<text class="t" transform="translate(133.4,229.10) scale(1,1.023)" text-anchor="end">0.2</text>
<text class="t" transform="translate(133.4,324.60) scale(1,1.023)" text-anchor="end">0.0</text>
<text class="t" transform="translate(133.4,420.10) scale(1,1.023)" text-anchor="end">0.2</text>
<text class="t" transform="translate(62.0,420.10) scale(1,1.023)">−</text>
<text class="t" transform="translate(133.4,515.60) scale(1,1.023)" text-anchor="end">0.4</text>
<text class="t" transform="translate(62.0,515.60) scale(1,1.023)">−</text>
<text class="t" transform="translate(133.4,611.10) scale(1,1.023)" text-anchor="end">0.6</text>
<text class="t" transform="translate(62.0,611.10) scale(1,1.023)">−</text>
<text class="t" transform="translate(133.4,706.60) scale(1,1.023)" text-anchor="end">0.8</text>
<text class="t" transform="translate(62.0,706.60) scale(1,1.023)">−</text>
<text class="t" transform="translate(219.58,764.0) scale(1,1.023)" text-anchor="middle">0</text>
<text class="t" transform="translate(475.73,764.0) scale(1,1.023)" text-anchor="middle">1</text>
<text class="t" transform="translate(731.88,764.0) scale(1,1.023)" text-anchor="middle">2</text>
<text class="t" transform="translate(988.03,764.0) scale(1,1.023)" text-anchor="middle">3</text>
<text class="t" transform="translate(1244.18,764.0) scale(1,1.023)" text-anchor="middle">4</text>
<text x="701.6" y="824" text-anchor="middle">z</text>
<text transform="translate(34.5,376) rotate(-90)" text-anchor="middle">q</text>
</g>
<path d="M431.1 436.9 L400.4 397.9" stroke="#000" stroke-width="2.2" fill="none"/>
<path d="M375.3 367.9 L412.3 393.6 L400.4 397.9 L393.6 408.5 Z" fill="#000"/>
</svg></body></html>
